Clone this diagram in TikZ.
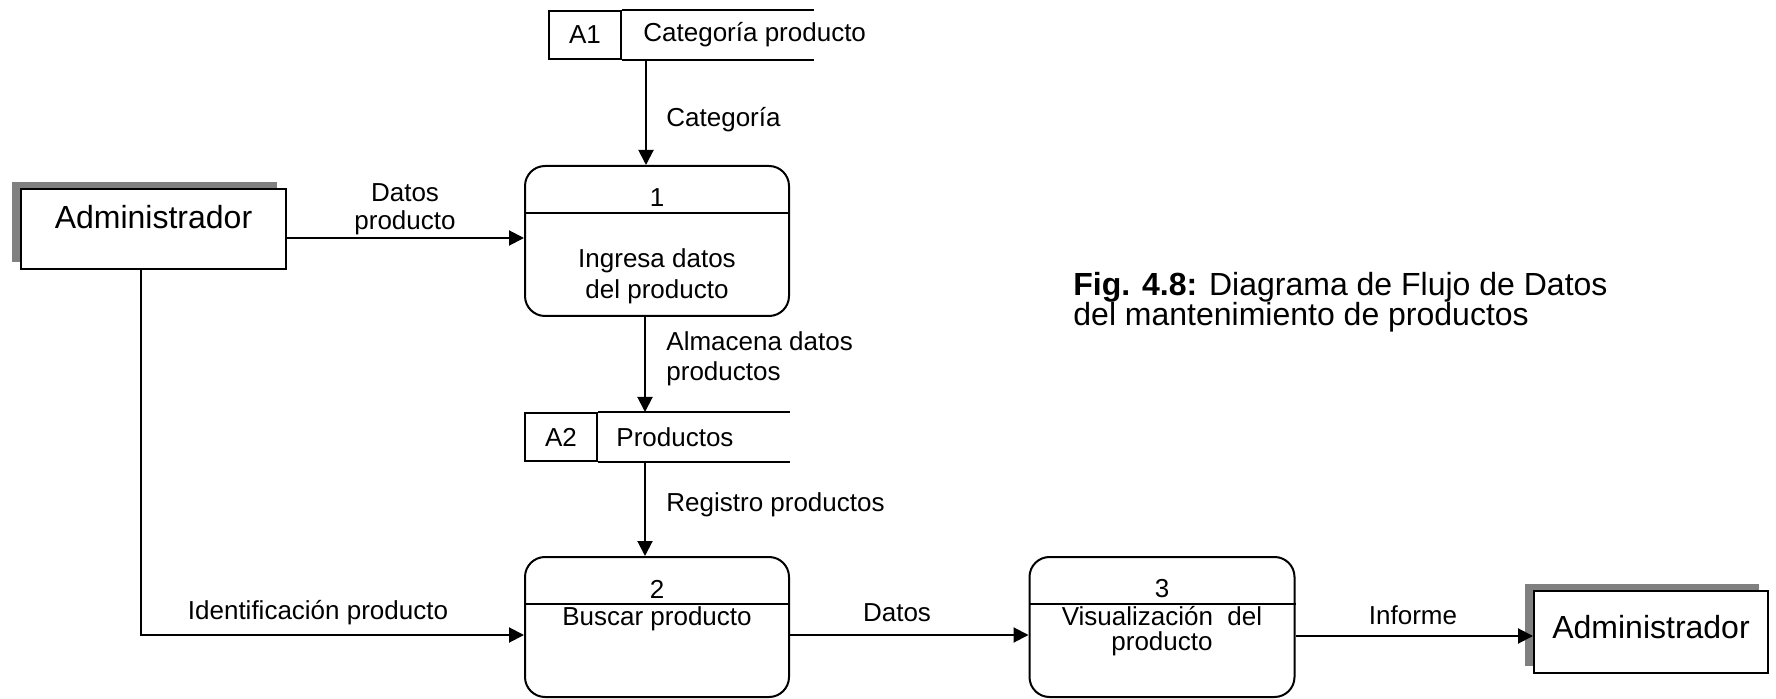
\documentclass[tikz,border=0pt]{standalone}
\usepackage{fontspec}
\setmainfont{Liberation Sans}
\usetikzlibrary{arrows.meta,positioning,calc,shadows}
\definecolor{sh}{RGB}{128,128,128}
\tikzset{proc/.style={draw,line width=1pt,rounded corners=10pt,minimum width=132pt,minimum height=70pt,inner sep=0pt},
 ent/.style={draw,fill=white,line width=1pt,minimum width=132.5pt,minimum height=40pt,
  general shadow={fill=sh,shadow xshift=-4.5pt,shadow yshift=3.5pt}},
 sid/.style={draw,line width=1pt,minimum width=36pt,minimum height=24pt,inner sep=0pt},
 wire/.style={line width=1pt},arr/.style={-{Triangle[length=7.5pt,width=7.5pt]},line width=1pt},
 big/.style={font=\fontsize{16}{18}\selectfont},
 every node/.style={font=\fontsize{13}{15}\selectfont,inner sep=0pt}}
\begin{document}
\begin{tikzpicture}[x=0.5pt,y=-0.5pt]
\useasboundingbox (0,0) rectangle (1776,699);
% externos
\node[ent] (adm) at (153.5,229) {};
\node[big] (admt) at ([yshift=6pt]adm.center) {Administrador};
\node[ent,minimum width=117pt,minimum height=41pt] (adm2) at (1651,632) {};
\node[big] (adm2t) at ([yshift=2.5pt]adm2.center) {Administrador};
% almacenes
\node[sid] (a1) at (585,35) {A1};
\draw[wire] (a1.north east) -- ++(192,0) (a1.south east) -- ++(192,0);
\node[anchor=west] (a1t) at ([xshift=10.5pt]a1.east) {Categoría producto};
\node[sid] (a2) at (561,437) {A2};
\draw[wire] (a2.north east) -- ++(192,0) (a2.south east) -- ++(192,0);
\node[anchor=west] (a2t) at ([xshift=9pt]a2.east) {Productos};
% procesos
\node[proc,minimum height=75pt] (p1) at (657,241) {};
\draw[wire] ([yshift=-24pt]p1.north west) -- ([yshift=-24pt]p1.north east);
\node (p1n) at ([yshift=-16.5pt]p1.north) {1};
\node[align=center,font=\fontsize{13}{15.5}\selectfont] (p1t) at ([yshift=-55.5pt]p1.north) {Ingresa datos\\del producto};
\node[proc] (p2) at (657,627) {};
\draw[wire] ([yshift=-24pt]p2.north west) -- ([yshift=-24pt]p2.north east);
\node (p2n) at ([yshift=-16.5pt]p2.north) {2};
\node (p2t) at ([yshift=-31.5pt]p2.north) {Buscar producto};
\node[proc,minimum width=132.5pt] (p3) at (1162,627) {};
\draw[wire] ([yshift=-24pt]p3.north west) -- ([yshift=-24pt]p3.north east);
\node (p3n) at ([yshift=-16.5pt]p3.north) {3};
\node[align=center,font=\fontsize{13}{12.5}\selectfont] (p3t) at ([yshift=-37.5pt]p3.north) {Visualización~ del\\producto};
% flujos
\draw[arr] ([xshift=12pt]a1.south east) -- ([xshift=12pt]a1.south east |- p1.north);
\draw[arr] ([yshift=-4.5pt]adm.east) -- ([yshift=-4.5pt]adm.east -| p1.west);
\draw[arr] ([xshift=-6pt]p1.south) -- ([xshift=-6pt]p1.south |- a2.north);
\draw[arr] ([xshift=-6pt]p2.north |- a2.south) -- ([xshift=-6pt]p2.north);
\draw[arr] ([xshift=-6.25pt]adm.south) |- ([yshift=-4pt]p2.west);
\draw[arr] ([yshift=-4pt]p2.east) -- ([yshift=-4pt]p3.west);
\draw[arr] ([yshift=-4.5pt]p3.east) -- ([yshift=-4.5pt]p3.east -| adm2.west);
\node[anchor=west] (lcat) at (666,120) {Categoría};
\node[align=center,font=\fontsize{13}{14}\selectfont] (ldp) at (405,209) {Datos\\producto};
\node[anchor=west,align=left] (lalm) at (666,359) {Almacena datos\\productos};
\node[anchor=west] (lreg) at (666,505) {Registro productos};
\node (lid) at (318,613) {Identificación producto};
\node (ldat) at (897,613) {Datos};
\node (linf) at (1413,615) {Informe};
\node[anchor=west,align=left,font=\fontsize{16}{15}\selectfont] (cap) at (1073,302) {\textbf{Fig. 4.8:} Diagrama de Flujo de Datos\\del mantenimiento de productos};
\end{tikzpicture}
\end{document}
